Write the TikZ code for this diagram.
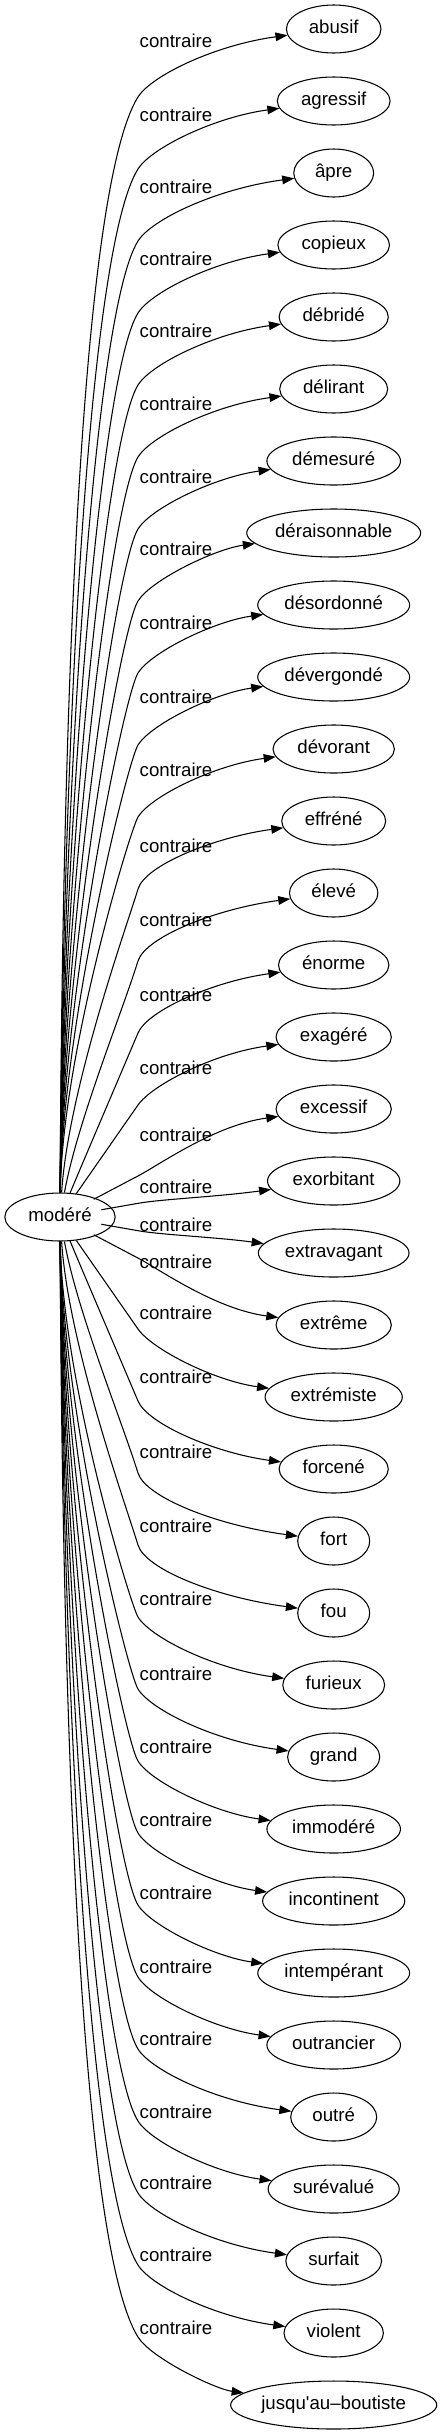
\documentclass[tikz,border=0pt]{standalone}
\usepackage{fontspec}
\setmainfont{Liberation Sans}
\newfontfamily\plainsans{Liberation Sans}
\usepackage{tikz}
\usetikzlibrary{arrows.meta,shapes.geometric}
\newcommand\wordfont{\plainsans\fontsize{14pt}{16pt}\selectfont}
\newdimen\wordwd

\begin{document}
\begin{tikzpicture}[
  x=0.75pt, y=-0.75pt,
  word/.style={draw, ellipse, line width=0.8pt, inner sep=0pt, minimum height=36pt},
  txt/.style ={font=\wordfont, inner sep=0pt, text height=10pt, text depth=3pt},
  lbl/.style ={font=\wordfont, inner sep=0pt},
  arr/.style ={-{Triangle[length=9pt, width=6.5pt]}, line width=0.8pt},
]
  \useasboundingbox (0,0) rectangle (443,2435);

  \node[txt] (tmoder) at (60,1217) {modéré};
  \pgfextractx{\wordwd}{\pgfpointdiff{\pgfpointanchor{tmoder}{west}}{\pgfpointanchor{tmoder}{east}}}
  \pgfmathsetmacro\ellw{max(54, 1.176*\wordwd + 26.5)}
  \node[word, minimum width=\ellw pt] (moder) at (60,1217) {};

  \foreach \word/\ly [count=\i from 0] in {
      abusif/41, agressif/115, âpre/187, copieux/259, débridé/331, délirant/404,
      démesuré/477, déraisonnable/549, désordonné/623, dévergondé/697, dévorant/770,
      effréné/846, élevé/920, énorme/995, exagéré/1068, excessif/1135, exorbitant/1187,
      extravagant/1225, extrême/1262, extrémiste/1313, forcené/1377, fort/1452, fou/1526,
      furieux/1599, grand/1674, immodéré/1747, incontinent/1820, intempérant/1893,
      outrancier/1967, outré/2039, surévalué/2112, surfait/2183, violent/2255,
      jusqu'au–boutiste/2328} {
    \pgfmathsetmacro\yt{29 + 72*\i}
    \node[txt] (t\i) at (333.7,\yt) {\word};
    \pgfextractx{\wordwd}{\pgfpointdiff{\pgfpointanchor{t\i}{west}}{\pgfpointanchor{t\i}{east}}}
    \pgfmathsetmacro\ellw{max(54, 1.176*\wordwd + 26.5)}
    \node[word, minimum width=\ellw pt] (w\i) at (333.7,\yt) {};
    \node[lbl] (l\i) at (176,\ly) {contraire};
    % knee of the edge, then the two control pairs
    \pgfmathsetmacro\sgn{sign(1217 - \yt)}
    \pgfmathsetmacro\dist{abs(1217 - \yt)}
    \pgfmathsetmacro\ky{\yt + \sgn*min(68, 0.62*\dist)}
    \pgfmathsetmacro\fw{min(1, max(0, (\dist - 250)/200))}
    \pgfmathsetmacro\rise{abs(1217 - \sgn*23.5 - \ky)}
    \pgfmathsetmacro\rr{117*(\rise/1097)*(\rise/1097)}
    \pgfmathsetmacro\ax{(1-\fw)*86 + \fw*62}
    \pgfmathsetmacro\ay{(1-\fw)*(1217 + (\ky-1217)/3) + \fw*(1217 - \sgn*23.5 - \sgn*0.37*\rise)}
    \pgfmathsetmacro\bx{(1-\fw)*112 + \fw*(138 - 0.53*\rr)}
    \pgfmathsetmacro\by{(1-\fw)*(\ky - (\ky-1217)/3) + \fw*(\ky + \sgn*0.848*\rr)}
    \pgfmathsetmacro\tn{veclen(138-\bx, \ky-\by)}
    \pgfmathsetmacro\cx{138 + 25*(138-\bx)/\tn}
    \pgfmathsetmacro\cy{\ky + 25*(\ky-\by)/\tn}
    \pgfmathsetmacro\ey{\yt + \sgn*16}
    \draw[arr] (moder) .. controls (\ax,\ay) and (\bx,\by) .. (138,\ky)
                       .. controls (\cx,\cy) and (215,\ey) .. (w\i);
  }
\end{tikzpicture}
\end{document}
